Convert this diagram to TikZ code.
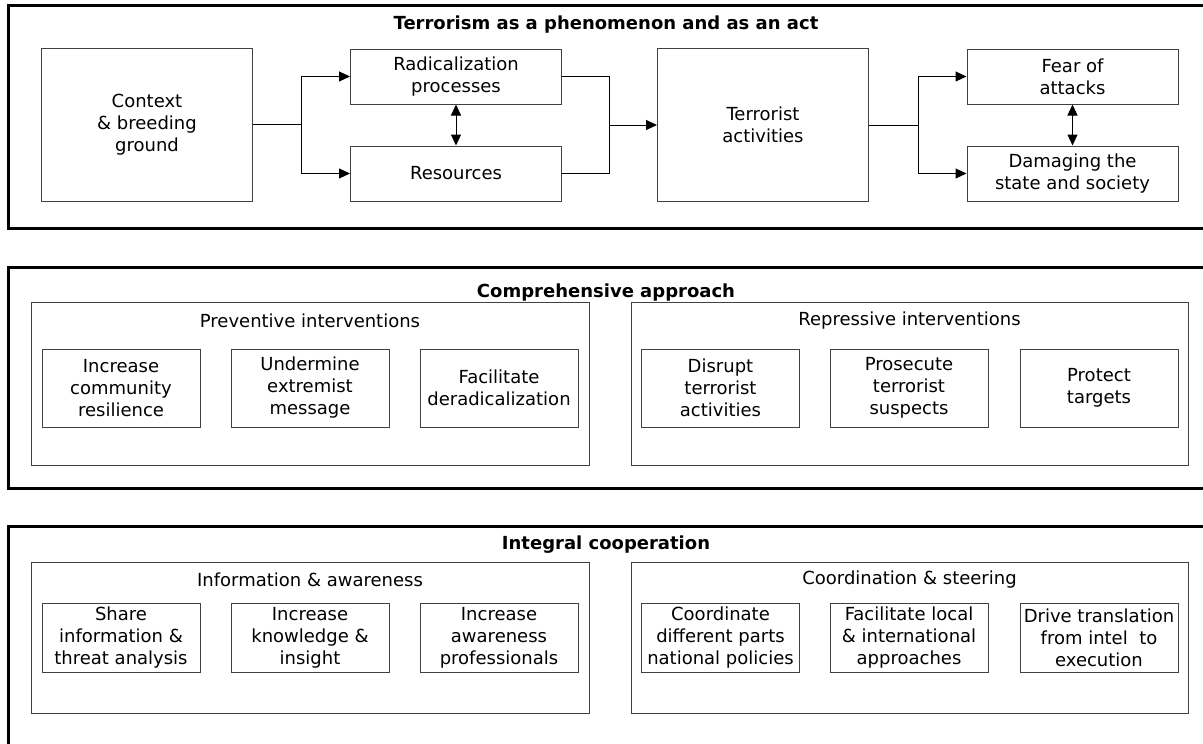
\documentclass[tikz,border=0pt]{standalone}
\usepackage{fontspec}
\setmainfont{DejaVu Sans}
\usetikzlibrary{arrows.meta}

\tikzset{
  panel/.style={draw=black, line width=3pt},
  group/.style={draw=black!75, line width=1pt, inner sep=0pt},
  box/.style={draw=black!75, line width=1pt, align=center, inner sep=0pt},
  bigbox/.style={box, minimum width=211pt, minimum height=153pt},
  halfbox/.style={box, minimum width=211pt, minimum height=55pt},
  itembox/.style={box, minimum width=158pt, minimum height=78pt},
  lowbox/.style={box, minimum width=158pt, minimum height=69pt},
  paneltitle/.style={font=\fontsize{18}{22}\selectfont\bfseries, inner sep=0pt},
  arr/.style={-{Triangle[length=11pt,width=10pt]}},
  dblarr/.style={{Triangle[length=11pt,width=10pt]}-{Triangle[length=11pt,width=10pt]}},
}

\begin{document}
\begin{tikzpicture}[x=1pt, y=-1pt, line width=1pt, font=\fontsize{18}{22}\selectfont]
  \useasboundingbox (0,0) rectangle (1203,744);

  % three panels, cut off on the right
  \draw[panel] (8,5) rectangle (1240,228);
  \draw[panel] (8,267) rectangle (1240,488);
  \draw[panel] (8,526) rectangle (1240,780);

  % terrorism as a phenomenon
  \node[paneltitle] (t1) at (606,25) {Terrorism as a phenomenon and as an act};
  \node[bigbox] (ctx) at (147,124.5) {Context\\\& breeding\\ground};
  \node[halfbox] (rad) at (456,76.5) {Radicalization\\processes};
  \node[halfbox] (res) at (456,173.5) {Resources};
  \node[bigbox] (act) at (763,125) {Terrorist\\activities};
  \node[halfbox] (fear) at (1072.5,76.5) {Fear of\\attacks};
  \node[halfbox] (dmg) at (1072.5,173.5) {Damaging the\\state and society};
  \coordinate (j1) at (301,124.5);
  \coordinate (j2) at (609,125);
  \coordinate (j3) at (918,125);
  \draw (ctx.east) -- (j1);
  \draw[arr] (j1) |- (rad.west);
  \draw[arr] (j1) |- (res.west);
  \draw (rad.east) -| (j2);
  \draw (res.east) -| (j2);
  \draw[arr] (j2) -- (act.west);
  \draw (act.east) -- (j3);
  \draw[arr] (j3) |- (fear.west);
  \draw[arr] (j3) |- (dmg.west);
  \draw[dblarr] (rad) -- (res);
  \draw[dblarr] (fear) -- (dmg);

  % comprehensive approach
  \node[paneltitle] (t2) at (606,293) {Comprehensive approach};
  \node[group, minimum width=558pt, minimum height=163pt] (prev) at (310,383.5) {};
  \node (prevh) at (310,321) {Preventive interventions};
  \node[itembox] (p1) at (121,388) {Increase\\community\\resilience};
  \node[itembox] (p2) at (310,388) {Undermine\\extremist\\message};
  \node[itembox] (p3) at (499,388) {Facilitate\\deradicalization};
  \node[group, minimum width=557pt, minimum height=163pt] (rep) at (909.5,383.5) {};
  \node (reph) at (909.5,321) {Repressive interventions};
  \node[itembox] (r1) at (720.5,388) {Disrupt\\terrorist\\activities};
  \node[itembox] (r2) at (909,388) {Prosecute\\terrorist\\suspects};
  \node[itembox] (r3) at (1099,388) {Protect\\targets};

  % integral cooperation
  \node[paneltitle] (t3) at (606,545) {Integral cooperation};
  \node[group, minimum width=558pt, minimum height=151pt] (info) at (310,637.5) {};
  \node (infoh) at (310,580) {Information \& awareness};
  \node[lowbox] (i1) at (121,637.5) {Share\\information \&\\threat analysis};
  \node[lowbox] (i2) at (310,637.5) {Increase\\knowledge \&\\insight};
  \node[lowbox] (i3) at (499,637.5) {Increase\\awareness\\professionals};
  \node[group, minimum width=557pt, minimum height=151pt] (coord) at (909.5,637.5) {};
  \node (coordh) at (909.5,580) {Coordination \& steering};
  \node[lowbox] (c1) at (720.5,637.5) {Coordinate\\different parts\\national policies};
  \node[lowbox] (c2) at (909,637.5) {Facilitate local\\\& international\\approaches};
  \node[lowbox] (c3) at (1099,637.5) {Drive translation\\from intel~ to\\execution};
\end{tikzpicture}
\end{document}
